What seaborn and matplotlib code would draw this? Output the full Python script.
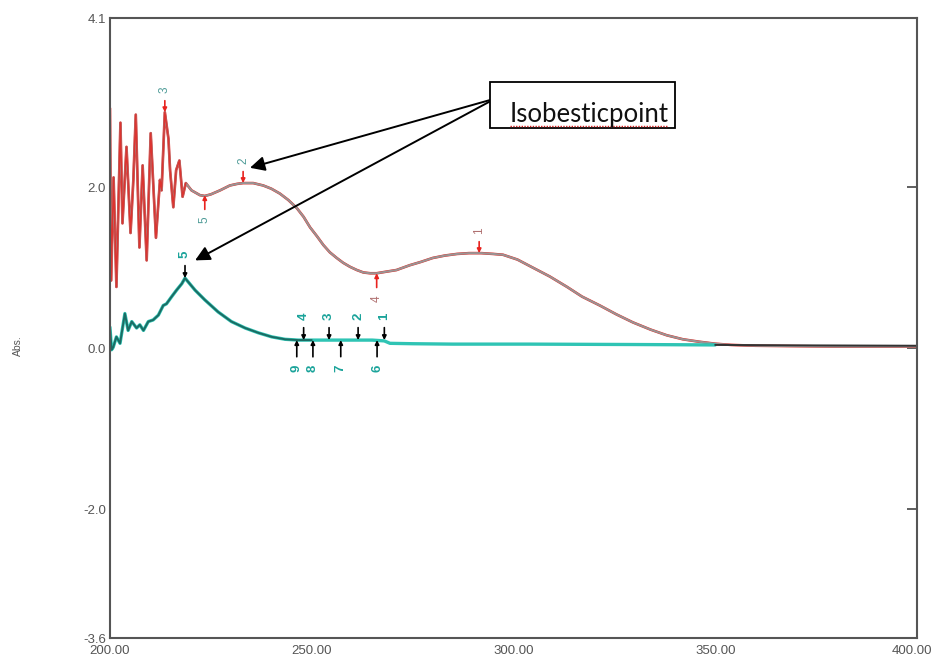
import matplotlib
matplotlib.use("Agg")
import matplotlib.pyplot as plt
import matplotlib.transforms as mtransforms
import seaborn as sns
import pandas as pd
from matplotlib.patches import Rectangle
from matplotlib.lines import Line2D

# upper (red) spectrum
red_nm = [200.0, 200.3, 200.9, 201.6, 202.6, 203.1, 204.1, 205.1, 205.8, 206.4,
          207.3, 208.1, 209.1, 210.1, 211.4, 212.4, 212.8, 213.6, 214.5, 214.9,
          215.7, 216.4, 217.2, 218.0, 218.8, 220.2, 222.3, 223.5, 225.0, 227.3,
          229.7, 231.5, 233.0, 235.5, 238.0, 240.0, 242.1, 244.2, 246.3, 248.0,
          249.6, 251.3, 252.9, 254.5, 256.2, 257.8, 259.5, 261.2, 262.8, 264.5,
          266.1, 268.5, 271.0, 274.3, 277.0, 280.0, 283.0, 286.0, 289.0, 292.0,
          295.0, 297.4, 301.0, 304.8, 309.0, 313.3, 317.0, 321.4, 325.5, 329.6,
          334.0, 338.0, 342.0, 346.0, 350.0, 354.0, 360.0, 370.0, 380.0, 390.0, 400.0]
red_abs = [2.98, 0.84, 2.12, 0.76, 2.80, 1.55, 2.50, 1.43, 2.09, 2.90,
           1.25, 2.27, 1.09, 2.67, 1.37, 2.09, 1.96, 2.93, 2.60, 2.21,
           1.75, 2.21, 2.33, 1.88, 2.05, 1.96, 1.90, 1.89, 1.91, 1.96,
           2.02, 2.04, 2.05, 2.05, 2.02, 1.98, 1.92, 1.84, 1.74, 1.63,
           1.50, 1.39, 1.28, 1.19, 1.12, 1.06, 1.01, 0.97, 0.94, 0.93,
           0.93, 0.95, 0.97, 1.03, 1.07, 1.12, 1.15, 1.17, 1.18, 1.18,
           1.17, 1.16, 1.10, 1.00, 0.89, 0.76, 0.64, 0.53, 0.42, 0.32,
           0.23, 0.16, 0.11, 0.08, 0.055, 0.04, 0.03, 0.025, 0.02, 0.02, 0.02]

# lower (teal) spectrum
teal_nm = [200.0, 200.4, 200.8, 201.6, 202.5, 203.7, 204.5, 205.4, 206.6, 207.4,
           208.3, 209.5, 210.7, 212.0, 213.2, 214.0, 215.3, 216.5, 217.8, 218.6,
           221.1, 223.5, 226.8, 230.1, 233.5, 236.8, 240.1, 243.4, 246.7, 250.0,
           255.0, 260.0, 265.0, 268.0, 269.4, 275.0, 285.0, 304.0, 330.0, 350.0,
           370.0, 400.0]
teal_abs = [0.26, -0.02, 0.01, 0.14, 0.06, 0.43, 0.22, 0.33, 0.25, 0.29,
            0.22, 0.33, 0.35, 0.41, 0.53, 0.55, 0.64, 0.72, 0.80, 0.87,
            0.72, 0.60, 0.45, 0.33, 0.25, 0.19, 0.14, 0.11, 0.10, 0.10,
            0.10, 0.10, 0.10, 0.09, 0.06, 0.055, 0.05, 0.05, 0.045, 0.04,
            0.035, 0.03]

# peak / valley picks
red_pick_nm = [213.6, 233.0, 291.5, 223.5, 266.1]
red_pick_abs = [2.93, 2.05, 1.18, 1.90, 0.93]
red_pick_lab = ["3", "2", "1", "5", "4"]
red_pick_up = [True, True, True, False, False]

teal_pick_nm = [218.6, 248.0, 254.3, 261.5, 268.0, 246.3, 250.3, 257.2, 266.2]
teal_pick_abs = [0.87, 0.10, 0.10, 0.10, 0.10, 0.10, 0.10, 0.10, 0.10]
teal_pick_lab = ["5", "4", "3", "2", "1", "9", "8", "7", "6"]
teal_pick_up = [True, True, True, True, True, False, False, False, False]

y_ticks = [4.1, 2.0, 0.0, -2.0, -3.6]
x_ticks = [200, 250, 300, 350, 400]

sns.set_style("white")
plt.rcParams['font.family'] = ['Liberation Sans', 'DejaVu Sans']

red_df = pd.DataFrame({"nm": red_nm, "abs": red_abs})
teal_df = pd.DataFrame({"nm": teal_nm, "abs": teal_abs})

fig = plt.figure(figsize=(9.35, 6.6), dpi=100)
ax = fig.add_axes([0.1176, 0.0333, 0.8631, 0.9394])

# red trace with a grey one laid over it
sns.lineplot(data=red_df, x="nm", y="abs", ax=ax, color="#e8231f", lw=1.9,
             estimator=None, sort=False)
sns.lineplot(data=red_df, x="nm", y="abs", ax=ax, color="#999494", lw=1.5,
             estimator=None, sort=False)
noisy = red_df[red_df["nm"] <= 219]
sns.lineplot(data=noisy, x="nm", y="abs", ax=ax, color="#e8231f", lw=1.1,
             alpha=0.85, estimator=None, sort=False)

# teal trace: cyan under, dark teal on top
cyan_part = teal_df[teal_df["nm"] <= 350]
sns.lineplot(data=cyan_part, x="nm", y="abs", ax=ax, color="#2fc4b4", lw=2.4,
             estimator=None, sort=False)
dark_part = teal_df[teal_df["nm"] <= 250]
sns.lineplot(data=dark_part, x="nm", y="abs", ax=ax, color="#1b6b63", lw=1.4,
             estimator=None, sort=False)
tail_part = teal_df[teal_df["nm"] >= 350]
sns.lineplot(data=tail_part, x="nm", y="abs", ax=ax, color="#333333", lw=1.4,
             estimator=None, sort=False)

# pick labels
for nm, a, lab, up in zip(red_pick_nm, red_pick_abs, red_pick_lab, red_pick_up):
    off = 16 if up else -18
    ax.annotate(lab, xy=(nm, a), xytext=(0, off), textcoords="offset points",
                ha="center", va="center", rotation=90, fontsize=8.5,
                color="#4f9c98" if lab in ("3", "2", "5") else "#b07070",
                arrowprops=dict(arrowstyle="-|>", color="#e8231f", lw=1.2,
                                mutation_scale=6, shrinkA=3, shrinkB=0))

for nm, a, lab, up in zip(teal_pick_nm, teal_pick_abs, teal_pick_lab, teal_pick_up):
    off = 17 if up else -20
    ax.annotate(lab, xy=(nm, a), xytext=(0, off), textcoords="offset points",
                ha="center", va="center", rotation=90, fontsize=9.5,
                fontweight="bold", color="#1aa39a",
                arrowprops=dict(arrowstyle="-|>", color="black", lw=1.2,
                                mutation_scale=6, shrinkA=3, shrinkB=0))

# isosbestic point callout
for tip in [(234.7, 2.24), (221.1, 1.09)]:
    ax.annotate("", xy=tip, xytext=(295.5, 3.1),
                arrowprops=dict(arrowstyle="-|>", color="black", lw=1.4,
                                mutation_scale=22, shrinkA=0, shrinkB=0))
fig.patches.append(Rectangle((0.524, 0.806), 0.198, 0.0697, transform=fig.transFigure,
                             fill=True, facecolor="white", edgecolor="black", lw=1.3))
fig.text(0.5455, 0.8155, "Isobesticpoint", fontsize=18.5, family=["Lato", "DejaVu Sans"],
         color="#111111", va="baseline", ha="left")
fig.lines.append(Line2D([0.5455, 0.713], [0.809, 0.809], transform=fig.transFigure,
                        color="#d42020", lw=1.0, ls=(0, (1, 1))))

ax.set_xlim(200, 400)
ax.set_ylim(-3.6, 4.1)
ax.set_yticks(y_ticks)
ax.set_yticklabels([f"{v:.1f}" for v in y_ticks])
ax.set_xticks(x_ticks)
ax.set_xticklabels([f"{v:.2f}" for v in x_ticks])
ax.tick_params(axis="both", direction="in", length=7, width=1.2, colors="#444444",
               labelsize=9.5, labelcolor="#555555", right=True, pad=3)
ax.tick_params(axis="x", pad=5)
# last x label sits against the right edge of the figure
last = ax.get_xticklabels()[-1]
last.set_ha("right")
last.set_transform(last.get_transform() +
                   mtransforms.ScaledTranslation(15 / 100, 0, fig.dpi_scale_trans))
for s in ax.spines.values():
    s.set_color("#555555")
    s.set_linewidth(1.5)
ax.set_xlabel("")
ax.set_ylabel("")
fig.text(0.019, 0.477, "Abs.", rotation=90, fontsize=7.5, color="#555555",
         ha="center", va="center")

fig.savefig("out.png", dpi=100)
